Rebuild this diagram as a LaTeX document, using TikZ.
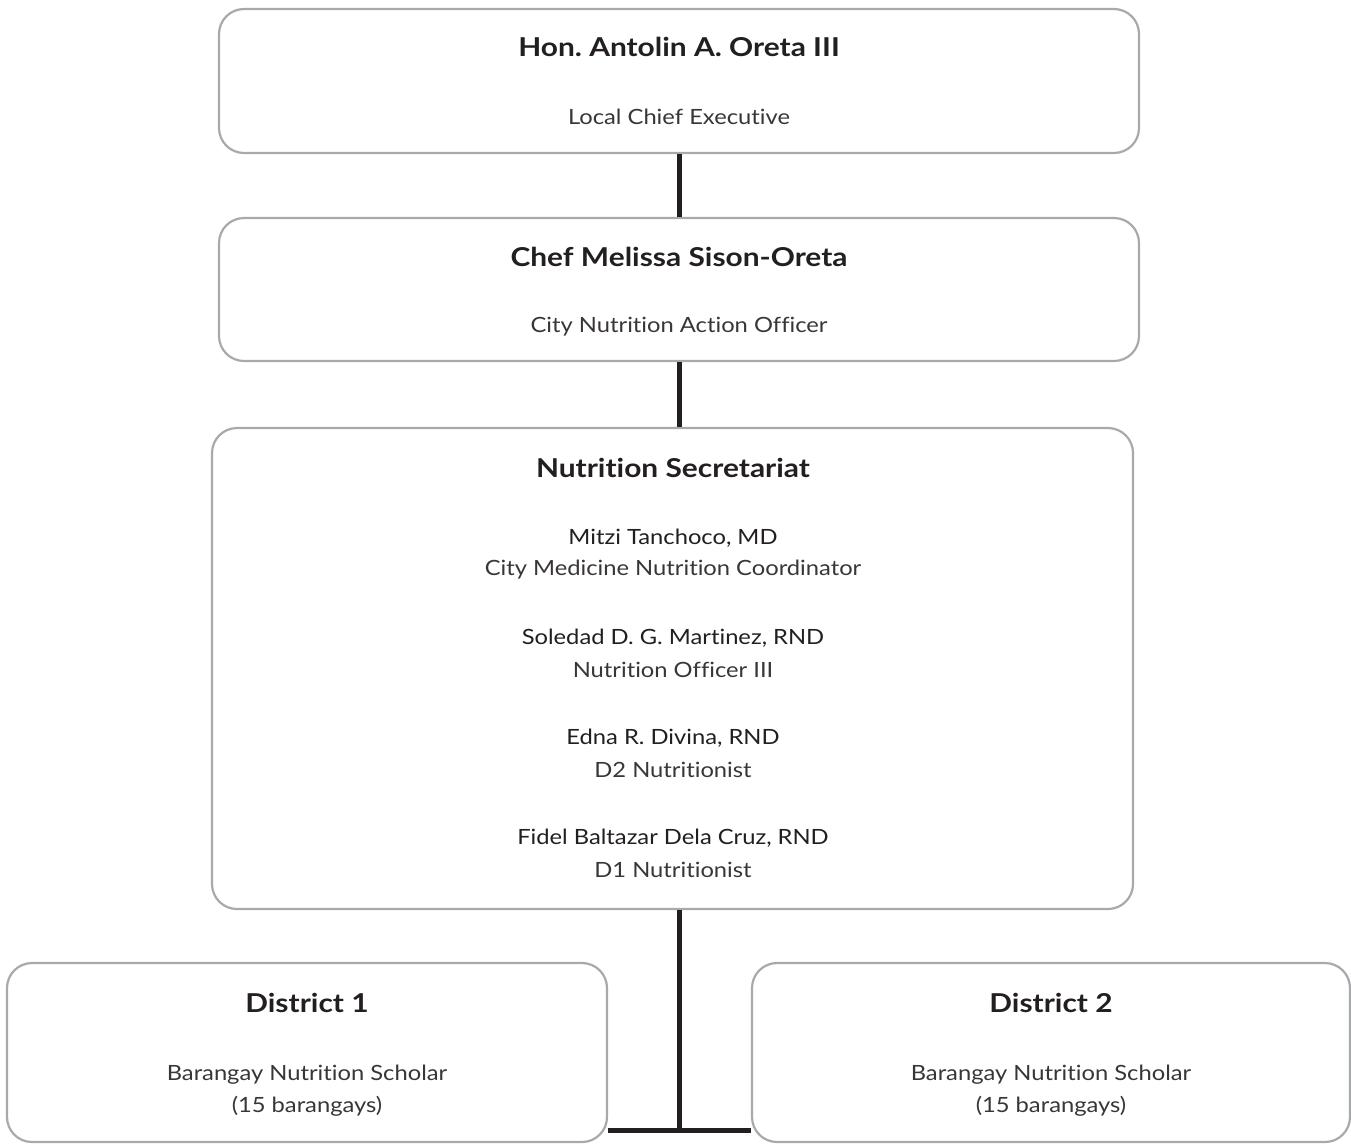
\documentclass[tikz,border=0pt]{standalone}
\usepackage{fontspec}
\setmainfont{Lato}[FakeStretch=1.13,Ligatures=NoCommon]
\newfontfamily\ttlfont{Lato}[FakeStretch=1.15,Ligatures=NoCommon]
\definecolor{boxgray}{HTML}{A7A9AC}
\definecolor{ink}{HTML}{231F20}
\definecolor{soft}{HTML}{3A3638}
\frenchspacing
\begin{document}
\begin{tikzpicture}[x=1pt,y=-1pt,
  card/.style={draw=boxgray,line width=2.2pt,rounded corners=25pt,fill=white,inner sep=0pt},
  ttl/.style={text=ink,font=\ttlfont\fontsize{26}{30}\selectfont\bfseries,inner sep=0pt,anchor=center},
  sub/.style={text=soft,font=\fontsize{21}{32}\selectfont,inner sep=0pt,anchor=center,align=center},
  link/.style={draw=ink,line width=5pt}]
\useasboundingbox (0,0) rectangle (1351,1144);
% boxes
\node[card,minimum width=920pt,minimum height=144pt] (b1) at (679,81) {};
\node[card,minimum width=920pt,minimum height=143pt] (b2) at (679,289.5) {};
\node[card,minimum width=921pt,minimum height=481pt] (b3) at (672.5,668.5) {};
\node[card,minimum width=600pt,minimum height=179pt] (b4) at (307,1052.5) {};
\node[card,minimum width=598pt,minimum height=179pt] (b5) at (1051,1052.5) {};
% texts
\node[ttl] (t1) at (679,47) {Hon. Antolin A. Oreta III};
\node[sub] (s1) at (679,117) {Local Chief Executive};
\node[ttl] (t2) at (679,257) {Chef Melissa Sison-Oreta};
\node[sub] (s2) at (679,327) {City Nutrition Action Officer};
\node[ttl] (t3) at (673,468) {Nutrition Secretariat};
\node[sub,text=ink] (n1) at (673,538) {Mitzi Tanchoco, MD};
\node[sub] (r1) at (673,570) {City Medicine Nutrition Coordinator};
\node[sub,text=ink] (n2) at (673,638) {Soledad D. G. Martinez, RND};
\node[sub] (r2) at (673,670) {Nutrition Officer III};
\node[sub,text=ink] (n3) at (673,738) {Edna R. Divina, RND};
\node[sub] (r3) at (673,770) {D2 Nutritionist};
\node[sub,text=ink] (n4) at (673,838) {Fidel Baltazar Dela Cruz, RND};
\node[sub] (r4) at (673,870) {D1 Nutritionist};
\node[ttl] (t4) at (307,1003) {District 1};
\node[sub] (s4) at (307,1091) {Barangay Nutrition Scholar\\(15 barangays)};
\node[ttl] (t5) at (1051,1003) {District 2};
\node[sub] (s5) at (1051,1091) {Barangay Nutrition Scholar\\(15 barangays)};
% connectors
\coordinate (j) at (679,1130);
\draw[link] (b1.south) -- (b2.north);
\draw[link] (b2.south) -- (b2.south |- b3.north);
\draw[link] (b3.south -| j) -- (j);
\draw[link,line cap=butt] (b4.east |- j) -- (b5.west |- j);
\end{tikzpicture}
\end{document}
